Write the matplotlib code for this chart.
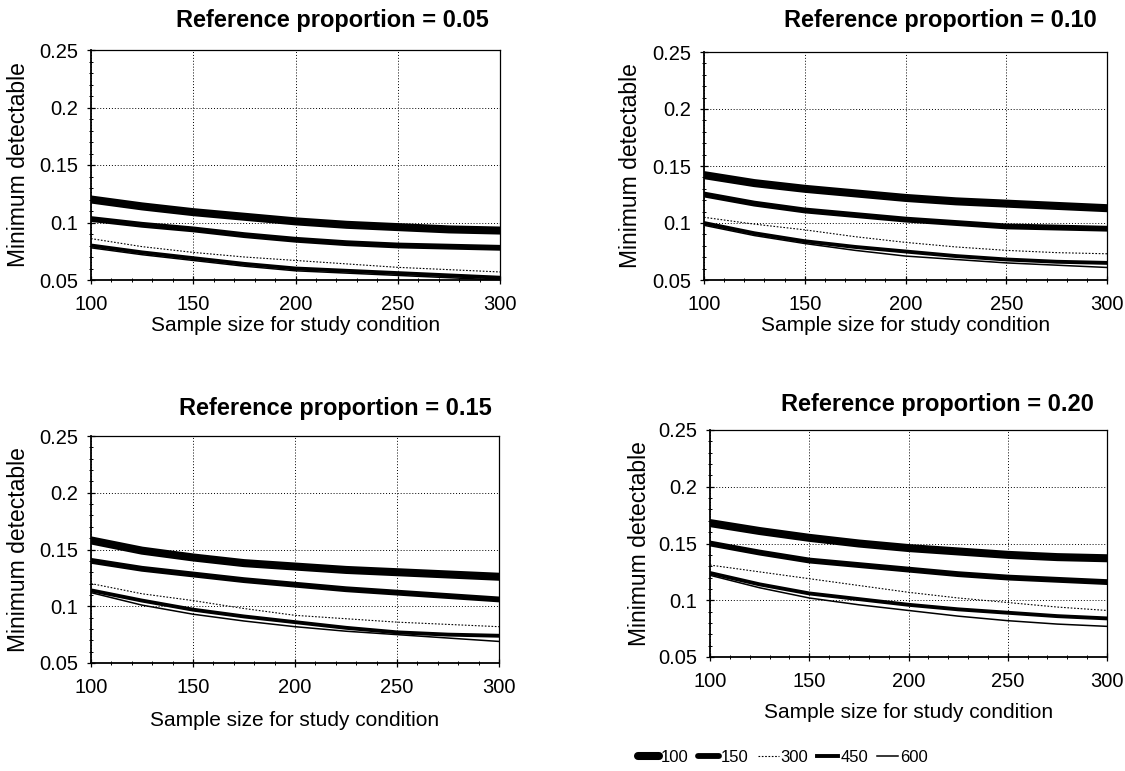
import matplotlib
matplotlib.use("Agg")
import matplotlib.pyplot as plt
from matplotlib.ticker import MultipleLocator, FixedLocator, FixedFormatter

plt.rcParams['font.family'] = ['Liberation Sans', 'DejaVu Sans']

# ---------------- data ----------------
sample_sizes = [100, 125, 150, 175, 200, 225, 250, 275, 300]
series_names = ["100", "150", "300", "450", "600"]
panel_titles = ["Reference proportion = 0.05", "Reference proportion = 0.10",
                "Reference proportion = 0.15", "Reference proportion = 0.20"]

p05_n100 = [0.120, 0.114, 0.109, 0.105, 0.101, 0.098, 0.096, 0.094, 0.093]
p05_n150 = [0.103, 0.098, 0.094, 0.089, 0.085, 0.082, 0.080, 0.079, 0.078]
p05_n300 = [0.086, 0.079, 0.074, 0.070, 0.067, 0.064, 0.061, 0.059, 0.057]
p05_n450 = [0.080, 0.074, 0.069, 0.064, 0.060, 0.058, 0.056, 0.054, 0.052]
p05_n600 = [0.078, 0.072, 0.067, 0.062, 0.058, 0.056, 0.054, 0.052, 0.050]

p10_n100 = [0.142, 0.135, 0.130, 0.126, 0.122, 0.119, 0.117, 0.115, 0.113]
p10_n150 = [0.125, 0.117, 0.111, 0.107, 0.103, 0.100, 0.097, 0.096, 0.095]
p10_n300 = [0.105, 0.099, 0.094, 0.088, 0.083, 0.079, 0.076, 0.074, 0.073]
p10_n450 = [0.100, 0.091, 0.084, 0.079, 0.075, 0.071, 0.068, 0.066, 0.065]
p10_n600 = [0.098, 0.089, 0.082, 0.076, 0.071, 0.068, 0.065, 0.063, 0.061]

p15_n100 = [0.158, 0.149, 0.143, 0.138, 0.135, 0.132, 0.130, 0.128, 0.126]
p15_n150 = [0.140, 0.133, 0.128, 0.123, 0.119, 0.115, 0.112, 0.109, 0.106]
p15_n300 = [0.120, 0.111, 0.105, 0.098, 0.092, 0.089, 0.086, 0.084, 0.082]
p15_n450 = [0.114, 0.105, 0.097, 0.091, 0.086, 0.081, 0.077, 0.075, 0.074]
p15_n600 = [0.112, 0.101, 0.093, 0.087, 0.082, 0.078, 0.075, 0.072, 0.069]

p20_n100 = [0.168, 0.161, 0.155, 0.150, 0.146, 0.143, 0.140, 0.138, 0.137]
p20_n150 = [0.150, 0.142, 0.135, 0.131, 0.127, 0.123, 0.120, 0.118, 0.116]
p20_n300 = [0.131, 0.125, 0.119, 0.113, 0.107, 0.102, 0.098, 0.094, 0.091]
p20_n450 = [0.124, 0.114, 0.106, 0.101, 0.096, 0.092, 0.089, 0.086, 0.084]
p20_n600 = [0.122, 0.111, 0.102, 0.096, 0.091, 0.086, 0.082, 0.079, 0.077]

panels = [
    [p05_n100, p05_n150, p05_n300, p05_n450, p05_n600],
    [p10_n100, p10_n150, p10_n300, p10_n450, p10_n600],
    [p15_n100, p15_n150, p15_n300, p15_n450, p15_n600],
    [p20_n100, p20_n150, p20_n300, p20_n450, p20_n600],
]

x_ticks = [100, 150, 200, 250, 300]
y_ticks = [0.05, 0.10, 0.15, 0.20, 0.25]
y_tick_labels = ["0.05", "0.1", "0.15", "0.2", "0.25"]

# ---------------- styles ----------------
styles = [
    dict(lw=5.8, ls='-', solid_capstyle='round', solid_joinstyle='round'),
    dict(lw=4.2, ls='-', solid_capstyle='round', solid_joinstyle='round'),
    dict(lw=0.8, ls=(0, (1.5, 1.5))),
    dict(lw=2.8, ls='-', solid_joinstyle='round'),
    dict(lw=1.1, ls='-', solid_joinstyle='round'),
]

W, H = 1125, 771
fig = plt.figure(figsize=(W / 100, H / 100), dpi=100)

def px_axes(x0, y0, x1, y1):
    return fig.add_axes([x0 / W, 1 - y1 / H, (x1 - x0) / W, (y1 - y0) / H])

ax_boxes = [(91, 50, 500, 280), (704, 52, 1107, 280),
            (91, 436, 499, 663), (710, 430, 1107, 657)]
title_pos = [(332, 20), (940, 20), (335, 408), (937, 405)]
ylab_x = [19, 630, 19, 640]
xlab_y = [325, 325, 720, 712]

lines_for_legend = []
for i, (box, data) in enumerate(zip(ax_boxes, panels)):
    ax = px_axes(*box)
    for j, (vals, st) in enumerate(zip(data, styles)):
        ln, = ax.plot(sample_sizes, vals, color='black', **st)
        if i == 0:
            lines_for_legend.append(ln)
    ax.set_xlim(100, 300)
    ax.set_ylim(0.05, 0.25)
    ax.xaxis.set_major_locator(FixedLocator(x_ticks))
    ax.yaxis.set_major_locator(FixedLocator(y_ticks))
    ax.yaxis.set_major_formatter(FixedFormatter(y_tick_labels))
    ax.xaxis.set_minor_locator(MultipleLocator(10))
    ax.yaxis.set_minor_locator(MultipleLocator(0.01))
    ax.tick_params(axis='both', which='major', direction='inout', length=6,
                   width=0.9, labelsize=14.5)
    ax.tick_params(axis='x', which='major', pad=8)
    ax.tick_params(axis='y', which='major', pad=6)
    ax.tick_params(axis='both', which='minor', direction='inout', length=3,
                   width=0.7)
    ax.grid(True, which='major', color='black', linestyle=(0, (1, 2)), lw=0.7)
    for side in ['left', 'bottom']:
        ax.spines[side].set_linewidth(1.3)
    for side in ['top', 'right']:
        ax.spines[side].set_linewidth(0.9)
    cx = (box[0] + box[2]) / 2
    cy = (box[1] + box[3]) / 2
    fig.text(title_pos[i][0] / W, 1 - title_pos[i][1] / H, panel_titles[i],
             ha='center', va='center', fontsize=17, fontweight='bold')
    fig.text(ylab_x[i] / W, 1 - cy / H, "Minimum detectable", rotation=90,
             ha='center', va='center', fontsize=16.5)
    fig.text(cx / W, 1 - xlab_y[i] / H, "Sample size for study condition",
             ha='center', va='center', fontsize=15)

fig.legend(lines_for_legend, series_names, loc='center',
           bbox_to_anchor=(783 / W, 1 - 757 / H), ncol=5, frameon=False,
           fontsize=12, handlelength=1.25, handletextpad=0.12,
           columnspacing=0.55)

fig.savefig("out.png", dpi=100)
